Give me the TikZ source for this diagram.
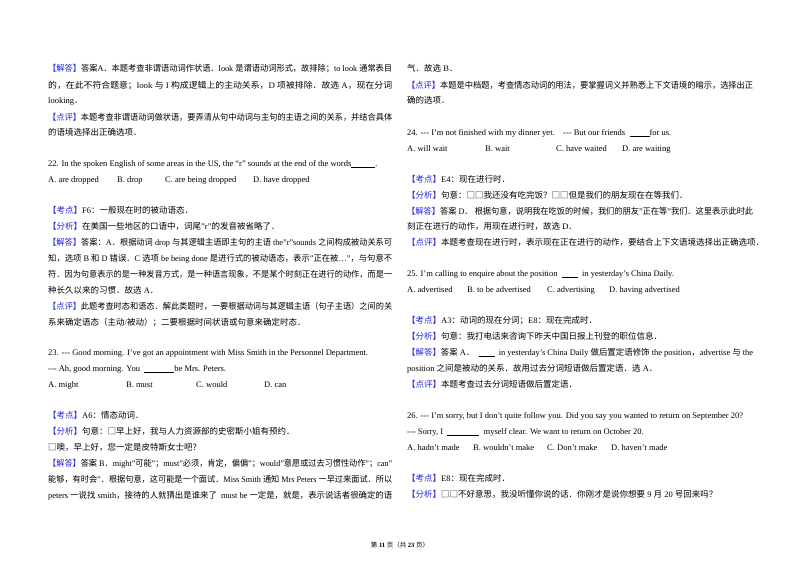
\documentclass[tikz,border=0pt]{standalone}
\usepackage{fontspec}
\usepackage{graphicx}
\setmainfont{Liberation Serif}
\newfontfamily\cjkf{Noto Sans CJK SC}
\XeTeXinterchartokenstate=1
\newXeTeXintercharclass\cjkc
\count255="3000 \loop \XeTeXcharclass\count255=\cjkc \ifnum\count255<"303F \advance\count255 1 \repeat
\count255="4E00 \loop \XeTeXcharclass\count255=\cjkc \ifnum\count255<"9FFF \advance\count255 1 \repeat
\count255="FF00 \loop \XeTeXcharclass\count255=\cjkc \ifnum\count255<"FFEF \advance\count255 1 \repeat
\XeTeXcharclass"25A1=\cjkc
\XeTeXinterchartoks 0 \cjkc = {\cjkf}
\XeTeXinterchartoks 4095 \cjkc = {\cjkf}
\XeTeXinterchartoks \cjkc 0 = {\rmfamily}
\XeTeXinterchartoks \cjkc 4095 = {\rmfamily}
\definecolor{labc}{RGB}{40,40,220}
\newcommand{\lab}[1]{\textcolor{labc}{【#1】}}
\newcommand{\blank}[1]{\rule[-1.5pt]{#1}{0.5pt}}
\newsavebox\jbox
\newcommand{\fitw}[2]{\sbox\jbox{#2}\pgfmathparse{#1/\the\wd\jbox}\scalebox{\pgfmathresult}[1]{\usebox\jbox}}
\newcommand{\jl}[1]{\fitw{344}{#1}}
\newcommand{\jr}[1]{\fitw{346}{#1}}
\begin{document}
\begin{tikzpicture}[x=1pt,y=-1pt,
  ln/.style={anchor=base west,inner sep=0pt,yshift=-3pt,font=\fontsize{8.5}{10}\selectfont}]
\useasboundingbox[fill=white] (0,0) rectangle (800,565);
% left column
\node[ln] (l1) at (48,68) {\jl{\lab{解答}答案A．本题考查非谓语动词作状语．look 是谓语动词形式，故排除；to look 通常表目}};
\node[ln] (l2) at (48,85) {\jl{的，在此不符合题意；look 与 I 构成逻辑上的主动关系，D 项被排除．故选 A，现在分词}};
\node[ln] (l3) at (48,100) {looking．};
\node[ln] (l4) at (48,117) {\jl{\lab{点评}本题考查非谓语动词做状语，要弄清从句中动词与主句的主语之间的关系，并结合具体}};
\node[ln] (l5) at (48,132) {的语境选择出正确选项．};
\node[ln] (l6) at (48,163) {22. In the spoken English of some areas in the US, the “r” sounds at the end of the words\blank{24pt}.};
\node[ln] (l7a) at (48,179) {A. are dropped};
\node[ln] (l7b) at (117,179) {B. drop};
\node[ln] (l7c) at (165,179) {C. are being dropped};
\node[ln] (l7d) at (253,179) {D. have dropped};
\node[ln] (l8) at (48,210) {\lab{考点}F6：一般现在时的被动语态．};
\node[ln] (l9) at (48,226) {\lab{分析}在美国一些地区的口语中，词尾"r"的发音被省略了．};
\node[ln] (l10) at (48,242) {\jl{\lab{解答}答案：A．根据动词 drop 与其逻辑主语即主句的主语 the"r"sounds 之间构成被动关系可}};
\node[ln] (l11) at (48,258) {\jl{知，选项 B 和 D 错误．C 选项 be being done 是进行式的被动语态，表示"正在被…"，与句意不}};
\node[ln] (l12) at (48,274) {\jl{符．因为句意表示的是一种发音方式，是一种语言现象，不是某个时刻正在进行的动作，而是一}};
\node[ln] (l13) at (48,290) {种长久以来的习惯．故选 A．};
\node[ln] (l14) at (48,306) {\jl{\lab{点评}此题考查时态和语态．解此类题时，一要根据动词与其逻辑主语（句子主语）之间的关}};
\node[ln] (l15) at (48,322) {系来确定语态（主动/被动）；二要根据时间状语或句意来确定时态．};
\node[ln] (l16) at (48,352) {23. -{}-{}- Good morning. I’ve got an appointment with Miss Smith in the Personnel Department.};
\node[ln] (l17) at (48,368) {-{}-{}- Ah, good morning. You \ \blank{30pt}be Mrs. Peters.};
\node[ln] (l18a) at (48,384) {A. might};
\node[ln] (l18b) at (126,384) {B. must};
\node[ln] (l18c) at (196,384) {C. would};
\node[ln] (l18d) at (264,384) {D. can};
\node[ln] (l19) at (48,415) {\lab{考点}A6：情态动词．};
\node[ln] (l20) at (48,431) {\lab{分析}句意：□早上好，我与人力资源部的史密斯小姐有预约．};
\node[ln] (l21) at (48,447) {□噢，早上好，您一定是皮特斯女士吧？};
\node[ln] (l22) at (48,463) {\jl{\lab{解答}答案 B．might"可能"；must"必须，肯定，偏偏"；would"意愿或过去习惯性动作"；can"}};
\node[ln] (l23) at (48,479) {\jl{能够，有时会"．根据句意，这可能是一个面试．Miss Smith 通知 Mrs Peters 一早过来面试．所以}};
\node[ln] (l24) at (48,495) {\jl{peters 一说找 smith，接待的人就猜出是谁来了 \ must be 一定是，就是，表示说话者很确定的语}};
% right column
\node[ln] (r1) at (407,68) {气．故选 B．};
\node[ln] (r2) at (407,85) {\jr{\lab{点评}本题是中档题，考查情态动词的用法，要掌握词义并熟悉上下文语境的暗示，选择出正}};
\node[ln] (r3) at (407,100) {确的选项．};
\node[ln] (r4) at (407,132) {24. -{}-{}- I’m not finished with my dinner yet.};
\node[ln] (r4b) at (563,132) {-{}-{}- But our friends \ \blank{20pt}for us.};
\node[ln] (r5a) at (407,148) {A. will wait};
\node[ln] (r5b) at (485,148) {B. wait};
\node[ln] (r5c) at (556,148) {C. have waited};
\node[ln] (r5d) at (622,148) {D. are waiting};
\node[ln] (r6) at (407,179) {\lab{考点}E4：现在进行时．};
\node[ln] (r7) at (407,195) {\lab{分析}句意：□□我还没有吃完饭？□□但是我们的朋友现在在等我们．};
\node[ln] (r8) at (407,211) {\jr{\lab{解答}答案 D． 根据句意，说明我在吃饭的时候，我们的朋友"正在等"我们．这里表示此时此}};
\node[ln] (r9) at (407,226) {刻正在进行的动作，用现在进行时，故选 D．};
\node[ln] (r10) at (407,242) {\lab{点评}本题考查现在进行时，表示现在正在进行的动作，要结合上下文语境选择出正确选项．};
\node[ln] (r11) at (407,273) {25. I’m calling to enquire about the position \ \blank{16pt} \ in yesterday’s China Daily.};
\node[ln] (r12a) at (407,289) {A. advertised};
\node[ln] (r12b) at (467,289) {B. to be advertised};
\node[ln] (r12c) at (547,289) {C. advertising};
\node[ln] (r12d) at (609,289) {D. having advertised};
\node[ln] (r13) at (407,320) {\lab{考点}A3：动词的现在分词；E8：现在完成时．};
\node[ln] (r14) at (407,336) {\lab{分析}句意：我打电话来咨询下昨天中国日报上刊登的职位信息．};
\node[ln] (r15) at (407,352) {\jr{\lab{解答}答案 A． \ \blank{16pt} \ in yesterday’s China Daily 做后置定语修饰 the position，advertise 与 the}};
\node[ln] (r16) at (407,368) {position 之间是被动的关系．故用过去分词短语做后置定语．选 A．};
\node[ln] (r17) at (407,384) {\lab{点评}本题考查过去分词短语做后置定语．};
\node[ln] (r18) at (407,415) {26. -{}-{}- I’m sorry, but I don’t quite follow you. Did you say you wanted to return on September 20?};
\node[ln] (r19) at (407,431) {-{}-{}- Sorry, I \ \blank{32pt} \ myself clear. We want to return on October 20.};
\node[ln] (r20a) at (407,447) {A. hadn’t made};
\node[ln] (r20b) at (473,447) {B. wouldn’t make};
\node[ln] (r20c) at (547,447) {C. Don’t make};
\node[ln] (r20d) at (611,447) {D. haven’t made};
\node[ln] (r21) at (407,478) {\lab{考点}E8：现在完成时．};
\node[ln] (r22) at (407,494) {\lab{分析}□□不好意思，我没听懂你说的话．你刚才是说你想要 9 月 20 号回来吗？};
% footer
\node[inner sep=0pt,font=\fontsize{6.5}{8}\selectfont] (foot) at (400,545) {第 \textbf{11} 页（共 \textbf{23} 页）};
\end{tikzpicture}
\end{document}
